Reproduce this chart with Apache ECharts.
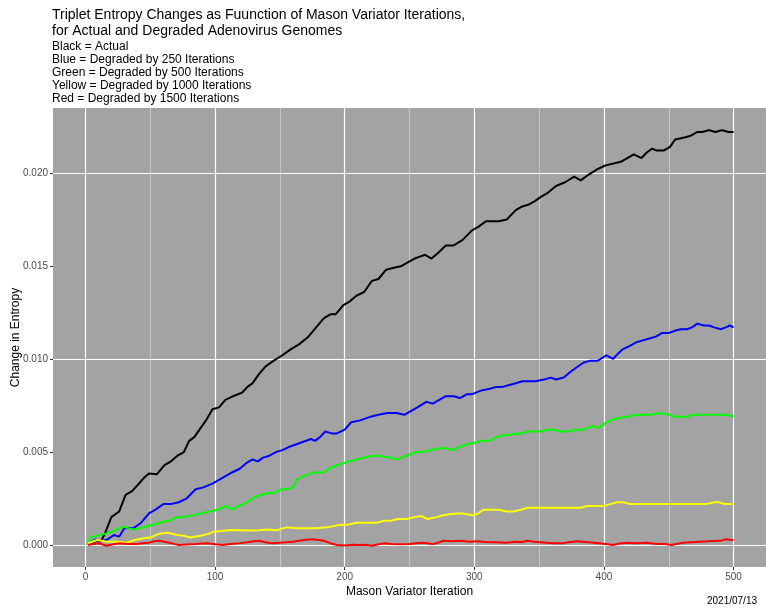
<!DOCTYPE html>
<html>
<head>
<meta charset="utf-8">
<script src="https://cdn.jsdelivr.net/npm/echarts@6/dist/echarts.min.js"></script>
<style>html,body{margin:0;padding:0;background:#fff;}#c{width:766px;height:613px;}</style>
</head>
<body>
<div id="c"></div>
<script>
const titleText = "Triplet Entropy Changes as Fuunction of Mason Variator Iterations,\nfor Actual and Degraded Adenovirus Genomes";
const subtitleText = "Black = Actual\nBlue = Degraded by 250 Iterations\nGreen = Degraded by 500 Iterations\nYellow = Degraded by 1000 Iterations\nRed = Degraded by 1500 Iterations";
const captionText = "2021/07/13";
const xAxisTitle = "Mason Variator Iteration";
const yAxisTitle = "Change in Entropy";

const xTicks = [0, 100, 200, 300, 400, 500];
const xMinor = [50, 150, 250, 350, 450];
const yTicks = [0, 0.005, 0.010, 0.015, 0.020];
const yMinor = [0.0025, 0.0075, 0.0125, 0.0175, 0.0225];

const blackX = [3,8,12,15,20,26,31,36,40,45,49,55,61,66,71,76,80,84,88,93,98,103,108,114,121,125,129,134,139,145,152,158,165,172,178,184,189,193,199,204,209,215,221,226,232,238,244,249,254,258,262,267,272,278,284,291,298,303,309,314,319,325,332,337,342,347,351,356,363,370,377,382,388,395,401,407,413,418,423,429,433,437,441,446,451,455,462,467,472,476,481,486,491,496,500];
const blackY = [0.0001,0.0002,0.0002,0.0006,0.0015,0.0018,0.0027,0.0029,0.0032,0.0036,0.00385,0.0038,0.0043,0.0045,0.0048,0.0050,0.0056,0.0058,0.0062,0.0067,0.0073,0.0074,0.0078,0.0080,0.0082,0.0085,0.0087,0.0092,0.0096,0.0099,0.0102,0.0105,0.0108,0.0112,0.0117,0.0122,0.0124,0.0124,0.0129,0.0131,0.0134,0.0136,0.0142,0.0143,0.0148,0.0149,0.0150,0.0152,0.0154,0.0155,0.0156,0.0154,0.0157,0.0161,0.0161,0.0164,0.0169,0.0171,0.0174,0.0174,0.0174,0.0175,0.0180,0.0182,0.0183,0.0185,0.0187,0.0189,0.0193,0.0195,0.0198,0.0196,0.0199,0.0202,0.0204,0.0205,0.0206,0.0208,0.0210,0.0208,0.0211,0.0213,0.0212,0.0212,0.0214,0.0218,0.0219,0.0220,0.0222,0.0222,0.0223,0.0222,0.0223,0.0222,0.0222];

const blueX = [2,5,8,12,17,22,26,30,33,37,43,49,54,60,66,72,78,85,91,98,103,108,113,119,124,129,133,137,142,147,152,158,166,174,177,181,185,190,194,200,205,212,220,226,233,240,246,251,256,263,268,273,278,284,289,294,298,305,312,317,322,327,332,337,341,347,354,359,363,369,374,378,384,389,395,402,407,411,414,420,425,430,435,440,445,450,454,459,464,468,472,477,481,485,490,494,497,500];
const blueY = [0.0001,0.0002,0.0003,0.0002,0.0003,0.00054,0.00045,0.0009,0.0009,0.0009,0.0012,0.0017,0.0019,0.0022,0.0022,0.0023,0.0025,0.0030,0.0031,0.0033,0.0035,0.0037,0.0039,0.0041,0.0044,0.0046,0.0045,0.0047,0.0048,0.0050,0.0051,0.0053,0.0055,0.0057,0.0056,0.0058,0.0061,0.0060,0.0060,0.0062,0.0066,0.0067,0.0069,0.0070,0.0071,0.0071,0.0070,0.0072,0.0074,0.0077,0.0076,0.0078,0.0080,0.0080,0.0079,0.0081,0.0081,0.0083,0.0084,0.0085,0.0085,0.0086,0.0087,0.0088,0.0088,0.0088,0.0089,0.0090,0.0089,0.0090,0.0093,0.0095,0.0098,0.0099,0.0099,0.0102,0.0100,0.0103,0.0105,0.0107,0.0109,0.0110,0.0111,0.0112,0.0114,0.0114,0.0115,0.0116,0.0116,0.0117,0.0119,0.0118,0.0118,0.0117,0.0116,0.0117,0.0118,0.0117];

const greenX = [2,4,6,9,11,15,20,23,26,30,33,37,42,47,53,60,65,70,76,83,89,96,102,108,113,118,122,127,131,136,142,146,151,155,160,163,168,172,176,180,184,188,191,195,199,204,209,215,222,226,230,235,240,244,248,255,260,266,273,278,284,289,294,300,307,312,317,322,327,332,337,341,346,351,356,361,367,373,378,384,391,396,402,409,418,425,431,436,443,450,454,460,464,469,474,482,489,495,500];
const greenY = [0.0001,0.0004,0.00045,0.0005,0.00054,0.0006,0.0007,0.0008,0.0009,0.00098,0.0009,0.00084,0.0009,0.0010,0.0011,0.00125,0.0013,0.0015,0.0015,0.0016,0.0017,0.0018,0.0019,0.0021,0.0019,0.0021,0.0022,0.0024,0.0026,0.0027,0.0028,0.0028,0.0030,0.0030,0.0031,0.0035,0.0037,0.0038,0.0039,0.0039,0.0039,0.0041,0.0042,0.0043,0.0044,0.0045,0.0046,0.0047,0.0048,0.0048,0.00475,0.0047,0.0046,0.0047,0.0048,0.0050,0.0050,0.0051,0.0052,0.0052,0.0051,0.0053,0.0054,0.0055,0.0056,0.0056,0.0058,0.0059,0.0059,0.0060,0.0060,0.0061,0.0061,0.0061,0.0062,0.0062,0.0061,0.0061,0.0062,0.0062,0.0064,0.0063,0.0066,0.0068,0.0069,0.0070,0.0070,0.0070,0.0071,0.0070,0.0069,0.0069,0.0069,0.0070,0.0070,0.0070,0.0070,0.0070,0.0069];

const yellowX = [2,9,17,25,32,38,45,50,56,63,71,76,81,89,95,99,105,112,119,127,134,140,148,155,163,171,178,186,196,203,209,216,225,230,235,241,248,254,259,264,271,276,281,286,291,299,303,307,313,319,325,330,336,341,346,351,358,366,374,382,387,392,400,405,410,415,420,426,433,440,448,454,459,465,472,479,485,489,493,497,500];
const yellowY = [0.0001,0.00027,0.00018,0.00018,0.00012,0.00027,0.00036,0.0004,0.00059,0.00066,0.00054,0.0005,0.00041,0.0005,0.0006,0.00072,0.00075,0.00081,0.0008,0.00078,0.0008,0.00084,0.0008,0.00095,0.0009,0.0009,0.0009,0.00095,0.00108,0.0011,0.0012,0.0012,0.0012,0.0013,0.0013,0.0014,0.0014,0.0015,0.00156,0.0014,0.0015,0.0016,0.00165,0.0017,0.0017,0.0016,0.0017,0.0019,0.0019,0.0019,0.0018,0.0018,0.0019,0.0020,0.0020,0.0020,0.0020,0.0020,0.0020,0.0020,0.0021,0.0021,0.0021,0.0022,0.0023,0.0023,0.0022,0.0022,0.0022,0.0022,0.0022,0.0022,0.0022,0.0022,0.0022,0.0022,0.0023,0.0023,0.0022,0.0022,0.0022];

const redX = [2,6,11,16,21,26,32,39,44,49,53,57,61,65,69,72,78,85,90,95,100,106,112,118,125,130,134,139,144,150,155,160,166,172,176,180,184,189,194,200,206,212,217,221,226,230,236,243,250,255,260,264,268,272,276,283,290,296,302,309,317,324,332,337,341,346,351,356,361,367,373,379,386,392,398,403,407,412,418,425,433,441,447,452,456,461,467,474,480,487,491,494,497,500];
const redY = [0,0.00005,0.00009,-0.00004,0.00003,0.00009,0.00006,0.00005,0.0001,0.00012,0.0002,0.00023,0.00018,0.00012,0.00005,0,0.00003,0.00005,0.00008,0.00009,0.00004,0,0.00005,0.00009,0.00015,0.0002,0.00023,0.00015,0.00009,0.00012,0.00015,0.00018,0.00025,0.0003,0.00031,0.00027,0.00023,0.0001,0,-0.00002,0.00001,0,0.00001,-0.00004,0.00004,0.00009,0.00006,0.00004,0.00006,0.0001,0.00012,0.0001,0.00005,0.00012,0.00023,0.0002,0.00023,0.00018,0.00021,0.00016,0.00015,0.00012,0.00018,0.00016,0.00023,0.00018,0.00015,0.00012,0.0001,0.00009,0.00015,0.00021,0.00016,0.00012,0.00008,0.00004,0,0.00008,0.00012,0.0001,0.00012,0.00005,0.00006,0,0.00006,0.00012,0.00015,0.00018,0.0002,0.00023,0.00025,0.00031,0.00028,0.00027];

const zip = (xs, ys) => xs.map((x, i) => [x, ys[i]]);

const font = "'Liberation Sans', Arial, sans-serif";
const chart = echarts.init(document.getElementById('c'), null, {renderer: 'canvas'});

function lineSeries(name, xs, ys, color) {
  return {
    name, type: 'line', data: zip(xs, ys), showSymbol: false, symbol: 'none',
    lineStyle: {color, width: 2}, itemStyle: {color}, z: 5, animation: false
  };
}

const gridLines = [];
xMinor.forEach(v => gridLines.push({xAxis: v, lineStyle: {color: '#cfcfcf', width: 0.8, type: 'solid'}}));
yMinor.forEach(v => gridLines.push({yAxis: v, lineStyle: {color: '#cfcfcf', width: 0.8, type: 'solid'}}));
xTicks.forEach(v => gridLines.push({xAxis: v, lineStyle: {color: '#ffffff', width: 1.2, type: 'solid'}}));
yTicks.forEach(v => gridLines.push({yAxis: v, lineStyle: {color: '#ffffff', width: 1.2, type: 'solid'}}));

chart.setOption({
  animation: false,
  backgroundColor: '#ffffff',
  title: [
    {text: titleText, subtext: subtitleText, left: 47, top: 2,
     textStyle: {fontFamily: font, fontSize: 14, fontWeight: 'normal', color: '#000', lineHeight: 16},
     subtextStyle: {fontFamily: font, fontSize: 12, color: '#000', lineHeight: 13},
     itemGap: 1},
    {text: captionText, right: 4, bottom: 2,
     textStyle: {fontFamily: font, fontSize: 10, fontWeight: 'normal', color: '#000'}}
  ],
  grid: {left: 53, right: 0, top: 108, bottom: 46, show: true, backgroundColor: '#a3a3a3', borderWidth: 0,
         containLabel: false, outerBoundsMode: 'none'},
  xAxis: {
    type: 'value', min: -25, max: 525,
    name: xAxisTitle, nameLocation: 'middle', nameGap: 19, nameMoveOverlap: false,
    nameTextStyle: {fontFamily: font, fontSize: 12, color: '#000'},
    axisLine: {show: false, onZero: false},
    axisTick: {show: true, customValues: xTicks, length: 3, lineStyle: {color: '#333'}},
    axisLabel: {customValues: xTicks, fontFamily: font, fontSize: 10, color: '#4d4d4d', margin: 5},
    splitLine: {show: false}
  },
  yAxis: {
    type: 'value', min: -0.00118, max: 0.02349,
    name: yAxisTitle, nameLocation: 'middle', nameGap: 31, nameRotate: 90, nameMoveOverlap: false,
    nameTextStyle: {fontFamily: font, fontSize: 12, color: '#000'},
    axisLine: {show: false, onZero: false},
    axisTick: {show: true, customValues: yTicks, length: 3, lineStyle: {color: '#333'}},
    axisLabel: {customValues: yTicks, fontFamily: font, fontSize: 10, color: '#4d4d4d', margin: 5,
      formatter: v => v.toFixed(3)},
    splitLine: {show: false}
  },
  series: [
    {type: 'line', data: [], z: 1, silent: true,
     markLine: {silent: true, symbol: 'none', animation: false, label: {show: false}, z: 1, data: gridLines}},
    lineSeries('Black', blackX, blackY, '#000000'),
    lineSeries('Blue', blueX, blueY, '#0000ff'),
    lineSeries('Green', greenX, greenY, '#00ff00'),
    lineSeries('Yellow', yellowX, yellowY, '#ffff00'),
    lineSeries('Red', redX, redY, '#ff0000')
  ]
});
</script>
</body>
</html>
